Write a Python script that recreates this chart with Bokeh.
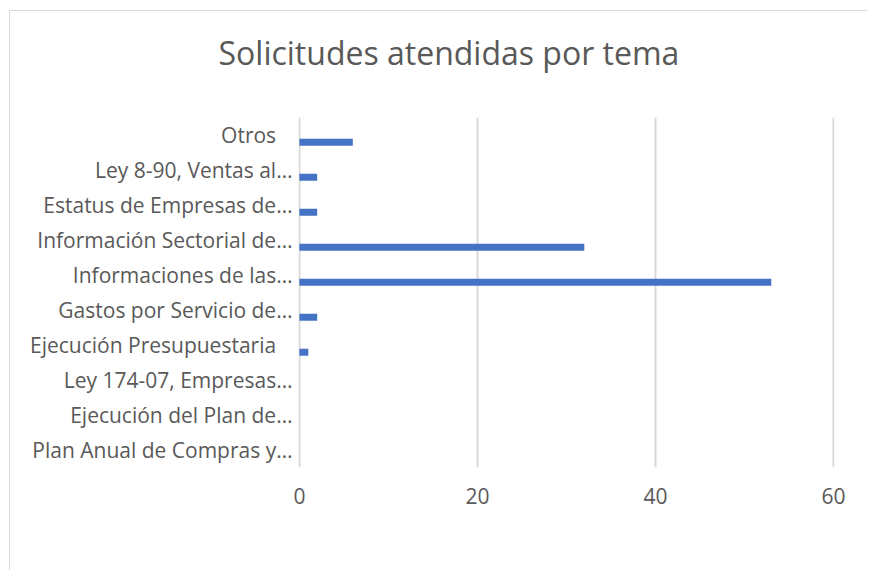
from bokeh.plotting import figure
from bokeh.models import FactorRange, Range1d, Title, FixedTicker
from bokeh.transform import dodge
from bokeh.embed import file_html
from bokeh.resources import INLINE

categories = [
    "Plan Anual de Compras y…",
    "Ejecución del Plan de…",
    "Ley 174-07, Empresas…",
    "Ejecución Presupuestaria",
    "Gastos por Servicio de…",
    "Informaciones de las…",
    "Información Sectorial de…",
    "Estatus de Empresas de…",
    "Ley 8-90, Ventas al…",
    "Otros",
]
values = [0, 0, 0, 1, 2, 53, 32, 2, 2, 6]
x_ticks = [0, 20, 40, 60]
# labels that carry trailing blanks in the original chart
padded_labels = ["Ejecución Presupuestaria", "Otros"]
PAD = "\u00a0\u00a0\u00a0"
factors = [c + PAD if c in padded_labels else c for c in categories]

FONT = "Open Sans"
TXT = "#595959"
LINE = "#d9d9d9"
LABEL_SIZE = "21px"

p = figure(
    width=867, height=570,
    y_range=FactorRange(factors=factors, range_padding=0),
    x_range=Range1d(-0.1, 60.1),
    output_backend="svg", toolbar_location=None,
    min_border_left=298, min_border_right=33,
    min_border_top=117, min_border_bottom=103,
)
p.border_fill_color = None
p.background_fill_color = None
p.styles = {
    "background-color": "white",
    "background-image": f"linear-gradient({LINE}, {LINE}), linear-gradient({LINE}, {LINE})",
    "background-size": "1px 100%, 100% 1px",
    "background-position": "9px 10px, 9px 10px",
    "background-repeat": "no-repeat",
}

# blank spacer between plot area and title
p.add_layout(Title(text=" ", text_font=FONT, text_font_size="28px", standoff=2), "above")
p.title = Title(text="Solicitudes atendidas por tema", align="left", vertical_align="top",
                text_font=FONT, text_font_size="32px", text_font_style="normal",
                text_color=TXT, offset=-80, standoff=0)

p.hbar(y=dodge("cat", -0.21, range=p.y_range), right="val", left=0, height=0.2,
       source=dict(cat=factors, val=values), fill_color="#4472C4", line_color=None)

p.outline_line_color = None
p.ygrid.grid_line_color = None
p.xgrid.grid_line_color = LINE
p.xgrid.grid_line_width = 2
p.xgrid.ticker = FixedTicker(ticks=x_ticks)

p.xaxis.ticker = FixedTicker(ticks=x_ticks)
p.xaxis.axis_line_color = None
p.xaxis.major_tick_line_color = None
p.xaxis.minor_tick_line_color = None
p.xaxis.major_label_standoff = 14
p.xaxis.major_label_text_font = FONT
p.xaxis.major_label_text_font_size = LABEL_SIZE
p.xaxis.major_label_text_color = TXT

p.yaxis.axis_line_color = None
p.yaxis.major_tick_line_color = None
p.yaxis.minor_tick_line_color = None
p.yaxis.major_label_standoff = 0
p.yaxis.major_label_text_font = FONT
p.yaxis.major_label_text_font_size = LABEL_SIZE
p.yaxis.major_label_text_color = TXT

open("out.html", "w").write(file_html(p, INLINE))
